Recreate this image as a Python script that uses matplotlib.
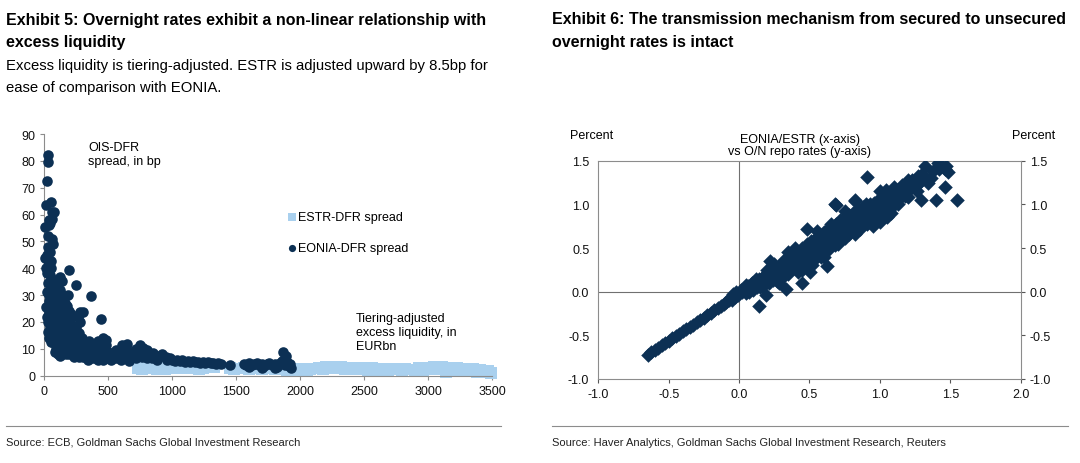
import numpy as np
import matplotlib.pyplot as plt

# Colours
navy = '#0c3054'
light_blue = '#a9d0ee'
grey = '#8c8c8c'

# Exhibit 5: excess liquidity (EURbn) vs OIS-DFR spread (bp)
eonia_liq = [26, 26, 21, 13, 49, 8, 39, 57, 78, 57, 39, 45, 57, 70, 26, 44, 18, 49, 34, 18,
             44, 26, 18, 13, 39, 26, 49, 70, 83, 122, 135, 195, 247, 182, 364, 447, 278, 299, 265, 421,
             486, 486, 606, 645, 749, 775, 801, 915, 5, 10, 30, 20, 35, 40, 52, 60, 65, 30, 45, 55,
             60, 35, 20,
             70, 75, 80, 85, 90, 95, 100, 100, 105, 110, 110, 115, 120, 120, 125, 130, 130, 135, 140, 140,
             145, 150, 150, 155, 160, 160, 165, 170, 170, 175, 180, 180, 185, 190, 195, 200, 200, 205, 210, 215,
             220, 225, 230, 235, 240, 245, 250, 255, 260, 265, 270, 275, 280, 285, 290, 295, 300, 305, 310, 90,
             65, 60, 95, 85, 105, 120, 115, 150, 175, 190, 210, 230, 250, 260, 280, 125, 100,
             320, 340, 360, 380, 400, 420, 440, 460, 480, 500, 520, 540, 560, 580, 600, 620, 640, 660, 680, 700,
             720, 740, 760, 780, 800, 820, 840, 860, 880, 900, 920, 330, 350, 370, 390, 410, 450, 470, 500, 530,
             560, 600, 640, 680, 720, 760, 800, 850, 400, 440, 460, 350,
             950, 960, 980, 1000, 1020, 1040, 1060, 1080, 1100, 1120, 1140, 1160, 1180, 1200, 1220, 1240, 1260, 1280,
             1300, 1320, 1340, 1360, 1380, 1451,
             1560, 1580, 1600, 1620, 1640, 1660, 1680, 1700, 1720, 1740, 1760, 1780, 1800, 1820, 1840, 1860, 1867,
             1888, 1880, 1900, 1910, 1920, 1930, 1600, 1700, 1800]
eonia_spread = [82, 79.5, 72.6, 63.6, 64.8, 55.2, 58, 58.3, 61, 61, 56, 57, 51, 49, 47.8, 46, 43.4, 42.8, 41.6, 38.2,
                37.5, 34.5, 31.3, 25.4, 23.6, 16.4, 12.7, 26.3, 31.9, 36.8, 35.4, 39.3, 33.7, 30.1, 29.5, 21.1, 23.9, 23.9, 22.3, 13,
                13.4, 11.4, 11.4, 11.8, 11.4, 10.5, 9.7, 7.2, 44, 40, 52, 45, 28, 30, 40, 36, 33, 20, 18, 24,
                20, 14, 22,
                22, 18, 28, 24, 30, 20, 26, 16, 22, 28, 12, 18, 24, 14, 10, 20, 16, 12, 26, 8,
                18, 14, 22, 10, 16, 27, 12, 19, 8, 14, 22, 10, 17, 12, 8, 15, 20, 11, 18, 8,
                13, 16, 10, 7, 14, 17, 11, 8, 13, 9, 16, 7, 12, 10, 8, 14, 9, 7, 11, 14,
                16, 12.5, 10, 9, 8, 7.5, 31, 30, 26, 24, 23, 18, 18, 22, 20, 32, 34,
                7, 6, 8, 6.5, 7, 5.8, 7.5, 6, 8, 6.5, 5.8, 7, 6.5, 7.5, 6, 8, 6.8, 5.5, 7, 8,
                6.5, 9, 7, 8.5, 6.5, 7.5, 6.5, 7, 6, 7.5, 8, 9, 8.5, 10, 9, 8, 9.5, 8.5, 9, 8.5,
                9.5, 8.5, 9.5, 9, 10, 10.5, 9, 8.5, 11.5, 12.5, 14, 13,
                7, 6, 6.5, 6, 5.5, 6, 5.5, 5.8, 5.2, 5.5, 5, 5.3, 5, 5.2, 4.8, 5, 4.8, 5,
                4.6, 4.8, 4.5, 4.7, 4.5, 4.0,
                4.5, 4, 4.6, 3.8, 4.4, 4.8, 4, 4.5, 3.5, 4.2, 4.8, 3.8, 4.5, 3.2, 4.6, 5.5, 8.9,
                7.4, 3.8, 5, 3.5, 4.5, 3, 3.2, 3, 3]

estr_liq = [730, 760, 790, 820, 850, 880, 910, 940,
            1000, 1030, 1060, 1090, 1120, 1150, 1180, 1210, 1240, 1280, 1330, 1450, 1480,
            1560, 1600, 1650, 1700, 1750, 1800, 1850, 1900,
            1960, 1990, 2020, 2050, 2080, 2145, 2175, 2205, 2235,
            2260, 2290, 2320, 2350, 2380, 2410, 2440, 2470, 2500, 2530, 2560, 2590, 2620, 2650, 2680, 2690,
            2770, 2800, 2820,
            2900, 2930, 2960, 2990, 3020, 3050, 3080, 3110, 3140, 3170, 3200, 3230, 3260, 3290, 3320, 3350,
            3380, 3410, 3440, 3470, 3490]
estr_spread = [3, 2.5, 3.2, 2.7, 3, 2.4, 3, 2.6,
               3.5, 3, 3.4, 2.8, 3.2, 2.8, 3, 2.6, 3, 3.5, 3.2, 3, 2.6,
               3, 2.5, 2.8, 2.5, 2.8, 2.4, 2.6, 2.2,
               2.5, 2, 2.5, 1.8, 2.4, 3, 2.6, 3.1, 2.7,
               3.2, 2.8, 3.3, 2.6, 3, 2.4, 2.9, 2.4, 2.8, 2.2, 2.7, 2.2, 2.6, 2.1, 2.5, 1.7,
               2.5, 2, 2.6,
               2.2, 2.8, 2, 3, 2.4, 3.2, 2.6, 3.2, 1.4, 3, 2.2, 2.9, 1.6, 2.6, 2, 2.4,
               1.5, 2.1, 1.2, 1.8, 1]

# Exhibit 6: EONIA/ESTR (x) vs O/N repo rate (y), percent
onr_x = [-0.65, -0.625, -0.6, -0.575, -0.55, -0.525, -0.5, -0.475, -0.45, -0.425, -0.4, -0.375, -0.35,
         -0.325, -0.3, -0.275, -0.25, -0.225, -0.2, -0.175, -0.15, -0.13, -0.11, -0.09, -0.07, -0.06,
         -0.05, -0.04, -0.03, -0.02, -0.01, 0.0, 0.01,
         0.02, 0.04, 0.05, 0.06, 0.08, 0.09, 0.1, 0.11, 0.12, 0.13, 0.14, 0.15, 0.16, 0.17, 0.18, 0.19,
         0.2, 0.21, 0.22, 0.23, 0.24, 0.25, 0.26, 0.27, 0.28, 0.29, 0.3, 0.31, 0.32, 0.33, 0.34, 0.35,
         0.36, 0.37, 0.38, 0.39, 0.4, 0.41, 0.42, 0.43, 0.44, 0.45, 0.46, 0.47, 0.48, 0.49, 0.5, 0.51,
         0.52, 0.53, 0.54, 0.55, 0.56, 0.57, 0.58, 0.59, 0.6, 0.61, 0.62, 0.63, 0.64, 0.65, 0.66, 0.67,
         0.68, 0.69, 0.7, 0.71, 0.72, 0.73, 0.74, 0.75, 0.76, 0.77, 0.78, 0.79, 0.8, 0.81, 0.82, 0.83,
         0.84, 0.85, 0.86, 0.87, 0.88, 0.89, 0.9, 0.91, 0.92, 0.93, 0.94, 0.95, 0.96, 0.97, 0.98, 0.99,
         1.0, 1.01, 1.02, 1.03, 1.04, 1.05, 1.06, 1.07, 1.08, 1.09, 1.1, 1.11, 1.12, 1.13, 1.14, 1.15,
         1.16, 1.18, 1.2, 1.2, 1.22, 1.24, 1.25, 1.27, 1.28, 1.3, 1.32, 1.34, 1.36, 1.29, 1.4, 1.55,
         1.46, 1.415, 1.43, 1.47, 1.487, 1.46,
         0.907, 0.689, 0.824, 0.485, 0.627, 0.22, 0.445, 0.334, 0.192, 0.144, 0.28, 0.504, 0.68, 0.82,
         0.52, 0.6, 0.7, 0.75, 0.55, 0.65, 0.75, 0.95, 1.0, 1.05, 0.9, 1.0, 0.4, 0.35, 0.3, 0.45,
         0.05, 0.07, 0.1, 0.12, 0.15, 0.18, 0.2, 0.22, 0.25, 0.27, 0.3, 0.32, 0.35, 0.37, 0.4, 0.42,
         0.45, 0.47, 0.5, 0.53, 0.56, 0.58, 0.6, 0.63, 0.66, 0.68, 0.7, 0.73, 0.76, 0.78, 0.8, 0.83,
         0.86, 0.88, 0.9, 0.93, 0.96, 0.98, 1.0, 1.03, 1.06, 1.08, 1.1, 1.13, 1.16, 1.18, 1.2, 1.23,
         1.26, 1.3, 1.33, 1.38, 1.42]
onr_y = [-0.72, -0.695, -0.667, -0.64, -0.613, -0.587, -0.56, -0.534, -0.508, -0.482, -0.455, -0.43, -0.403,
         -0.377, -0.35, -0.323, -0.296, -0.268, -0.24, -0.213, -0.19, -0.168, -0.146, -0.12, -0.095, -0.06,
         -0.09, -0.03, -0.06, 0.0, -0.04, -0.02, 0.02,
         0.0, 0.03, -0.02, 0.06, 0.04, 0.1, 0.02, 0.08, 0.12, 0.05, 0.15, 0.1, 0.07, 0.17, 0.12, 0.2,
         0.15, 0.1, 0.22, 0.18, 0.13, 0.25, 0.2, 0.16, 0.28, 0.22, 0.3, 0.19, 0.26, 0.33, 0.22, 0.3,
         0.37, 0.25, 0.33, 0.4, 0.28, 0.36, 0.45, 0.32, 0.4, 0.5, 0.35, 0.44, 0.55, 0.38, 0.47, 0.58,
         0.42, 0.5, 0.6, 0.45, 0.53, 0.64, 0.48, 0.57, 0.68, 0.52, 0.6, 0.72, 0.56, 0.64, 0.75, 0.6,
         0.68, 0.78, 0.62, 0.72, 0.82, 0.66, 0.75, 0.85, 0.7, 0.78, 0.88, 0.72, 0.82, 0.9, 0.66, 0.85,
         0.76, 0.93, 0.8, 0.88, 0.97, 0.82, 0.9, 0.78, 0.95, 1.0, 0.84, 0.92, 1.02, 0.8, 0.95, 1.05,
         0.88, 0.98, 1.08, 0.92, 1.17, 1.02, 0.95, 1.1, 1.05, 0.98, 1.12, 1.08, 1.15, 1.05, 1.1, 1.18,
         1.12, 1.2, 1.09, 1.28, 1.22, 1.27, 1.2, 1.32, 1.25, 1.28, 1.44, 1.25, 1.3, 1.05, 1.05, 1.05,
         1.2, 1.47, 1.46, 1.44, 1.37, 1.4,
         1.31, 0.99, 1.05, 0.715, 0.29, 0.35, 0.1, 0.034, -0.04, -0.165, 0.1, 0.22, 1.0, 1.04,
         0.3, 0.4, 0.55, 0.62, 0.7, 0.78, 0.92, 0.75, 0.8, 0.85, 1.0, 1.15, 0.5, 0.45, 0.15, 0.25,
         0.08, 0.0, 0.05, 0.15, 0.05, 0.08, 0.25, 0.15, 0.32, 0.12, 0.25, 0.36, 0.2, 0.42, 0.35, 0.22,
         0.42, 0.3, 0.55, 0.36, 0.62, 0.4, 0.58, 0.48, 0.7, 0.54, 0.78, 0.6, 0.8, 0.66, 0.74, 0.92,
         0.72, 0.85, 0.96, 0.86, 0.9, 1.0, 1.02, 0.98, 1.12, 0.9, 1.2, 1.0, 1.22, 1.1, 1.15, 1.28,
         1.15, 1.35, 1.3, 1.38, 1.4]

plt.rcParams['font.family'] = ['Liberation Sans', 'DejaVu Sans']

fig = plt.figure(figsize=(10.8, 4.64), dpi=100)

# ---- headings ----
fig.text(6/1080, 1 - 20/464, 'Exhibit 5: Overnight rates exhibit a non-linear relationship with',
         fontsize=11.5, fontweight='bold', va='center')
fig.text(6/1080, 1 - 42/464, 'excess liquidity', fontsize=11.5, fontweight='bold', va='center')
fig.text(6/1080, 1 - 66/464, 'Excess liquidity is tiering-adjusted. ESTR is adjusted upward by 8.5bp for',
         fontsize=10.7, va='center')
fig.text(6/1080, 1 - 88/464, 'ease of comparison with EONIA.', fontsize=10.7, va='center')
fig.text(552/1080, 1 - 20/464, 'Exhibit 6: The transmission mechanism from secured to unsecured',
         fontsize=11.5, fontweight='bold', va='center')
fig.text(552/1080, 1 - 42/464, 'overnight rates is intact', fontsize=11.5, fontweight='bold', va='center')

fig.add_artist(plt.Line2D([6/1080, 501/1080], [1 - 427/464] * 2, color=grey, lw=0.8))
fig.add_artist(plt.Line2D([552/1080, 1068/1080], [1 - 427/464] * 2, color=grey, lw=0.8))
fig.text(6/1080, 1 - 443/464, 'Source: ECB, Goldman Sachs Global Investment Research',
         fontsize=8, va='center', color='#222222')
fig.text(552/1080, 1 - 443/464, 'Source: Haver Analytics, Goldman Sachs Global Investment Research, Reuters',
         fontsize=8, va='center', color='#222222')

# ---- Exhibit 5 ----
ax1 = fig.add_axes([44.3/1080, 1 - 376.7/464, (492 - 44.3)/1080, (376.7 - 135)/464])
ax1.scatter(estr_liq, estr_spread, marker='s', s=75, color=light_blue, linewidths=0,
            label='ESTR-DFR spread', clip_on=False, zorder=2)
ax1.scatter(eonia_liq, eonia_spread, marker='o', s=58, color=navy, linewidths=0,
            label='EONIA-DFR spread', clip_on=False, zorder=3)
ax1.set_xlim(0, 3500)
ax1.set_ylim(0, 90)
ax1.set_xticks(np.arange(0, 3501, 500))
ax1.set_yticks(np.arange(0, 91, 10))
for side in ['top', 'right']:
    ax1.spines[side].set_visible(False)
for side in ['left', 'bottom']:
    ax1.spines[side].set_color(grey)
    ax1.spines[side].set_linewidth(0.8)
ax1.tick_params(colors=grey, labelcolor='#111111', labelsize=9, length=3, width=0.8)
ax1.text(88/1080, 1 - 142/464, 'OIS-DFR\nspread, in bp', transform=fig.transFigure,
         fontsize=9, va='top', linespacing=1.2)
ax1.text(356/1080, 1 - 313/464, 'Tiering-adjusted\nexcess liquidity, in\nEURbn', transform=fig.transFigure,
         fontsize=9, va='top', linespacing=1.2)
ax1.legend(loc='upper left', bbox_to_anchor=(281/1080, 1 - 206/464), bbox_transform=fig.transFigure,
           frameon=False, fontsize=9, handletextpad=0.05, handlelength=0.8, labelspacing=1.5,
           borderpad=0, markerscale=0.68)

# ---- Exhibit 6 ----
ax2 = fig.add_axes([598.3/1080, 1 - 380/464, (1020.7 - 598.3)/1080, (380 - 161.7)/464])
ax2.scatter(onr_x, onr_y, marker='D', s=55, color=navy, linewidths=0, zorder=3)
ax2.axhline(0, color='#707070', lw=0.8, zorder=1)
ax2.axvline(0, color='#707070', lw=0.8, zorder=1)
ax2.set_xlim(-1.0, 2.0)
ax2.set_ylim(-1.0, 1.5)
ax2.set_xticks(np.arange(-1.0, 2.01, 0.5))
ax2.set_yticks(np.arange(-1.0, 1.51, 0.5))
ax2.xaxis.set_major_formatter(plt.FormatStrFormatter('%.1f'))
ax2.yaxis.set_major_formatter(plt.FormatStrFormatter('%.1f'))
for side in ax2.spines:
    ax2.spines[side].set_color(grey)
    ax2.spines[side].set_linewidth(0.8)
ax2.tick_params(axis='y', left=False, right=True, labelleft=True, labelright=True)
ax2.tick_params(colors='#555555', labelcolor='#111111', labelsize=9, length=3, width=0.8)
fig.text(570/1080, 1 - 136/464, 'Percent', fontsize=9, va='center')
fig.text(1055/1080, 1 - 136/464, 'Percent', fontsize=9, va='center', ha='right')
fig.text(800/1080, 1 - 146/464, 'EONIA/ESTR (x-axis)\nvs O/N repo rates (y-axis)', fontsize=9,
         va='center', ha='center', linespacing=1.0)

fig.savefig('out.png', dpi=100)
